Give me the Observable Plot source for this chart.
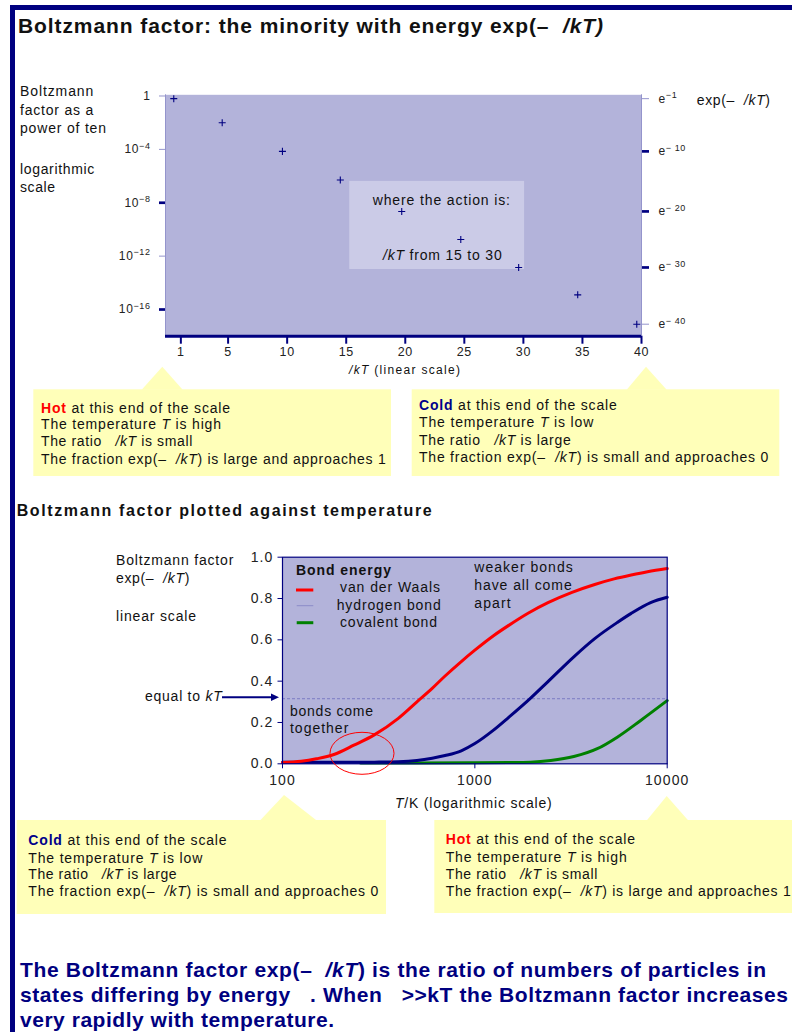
<!DOCTYPE html>
<html><head><meta charset="utf-8">
<script src="https://cdn.jsdelivr.net/npm/d3@7"></script>
<script src="https://cdn.jsdelivr.net/npm/@observablehq/plot@0.6"></script>
<style>
body{margin:0;background:#fff;}
#page{position:relative;width:792px;height:1032px;overflow:hidden;background:#fff;font-family:"Liberation Sans",Arial,sans-serif;}
#page svg{position:absolute;overflow:visible;}
</style></head><body><div id="page"></div>
<script>
// ---------- data: top chart (Boltzmann factor vs ε/kT, log scale) ----------
const ratioTicks = [1, 5, 10, 15, 20, 25, 30, 35, 40];
const pointRatio = [0.4, 4.5, 9.6, 14.5, 19.7, 24.7, 29.6, 34.6, 39.6];
const pointLog10 = [-0.2, -2.0, -4.15, -6.3, -8.65, -10.75, -12.85, -14.9, -17.1];
const pointExpN  = [1, 5, 10, 15, 20, 25, 30, 35, 40];                       // exponent n of e^-n
const powerTenMajor = [-8, -16];
const powerTenMinor = [0, -4, -12];
const powerTenLabels = [0, -4, -8, -12, -16];
const expTicksMajor = [10, 20, 30];
const expTicksMinor = [1, 40];
const expTickLabels = [1, 10, 20, 30, 40];
const actionRange = [15.3, 30.1];   // ε/kT band "where the action is"
const actionLog10 = [-6.4, -13.0];

// ---------- data: bottom chart (Boltzmann factor vs T, log T) ----------
const vdwT = [100,125,150,185,235,300,400,500,600,700,850,1000,1250,1500,1900,2400,3200,4200,5300,6500,7900,10000];
const vdwF = [0.006,0.012,0.024,0.045,0.09,0.14,0.22,0.30,0.365,0.425,0.495,0.55,0.62,0.67,0.73,0.78,0.83,0.868,0.895,0.914,0.93,0.945];
const hydT = [100,200,300,400,500,600,700,850,1000,1250,1500,1950,2400,3270,4200,5500,6500,8200,10000];
const hydF = [0.007,0.007,0.008,0.01,0.016,0.027,0.04,0.063,0.098,0.163,0.225,0.318,0.398,0.518,0.606,0.684,0.728,0.78,0.806];
const covT = [255,500,1000,1500,1950,2480,3270,4330,5500,7280,10000];
const covF = [0.004,0.004,0.005,0.006,0.008,0.016,0.035,0.073,0.129,0.21,0.306];
const tempTicks = [100, 1000, 10000];
const factorTicks = [0, 0.2, 0.4, 0.6, 0.8, 1.0];
const kTLevel = 0.315;

// ---------- styling ----------
const NAVY = "#000080", BG = "#b3b3da", LIGHT = "#9494cc", YEL = "#ffffb9", TXT = "#111";
const FONT = "'Liberation Sans', Arial, sans-serif";
const svgNS = "http://www.w3.org/2000/svg";
const page = document.getElementById("page");

function supers(svg) {
  svg.querySelectorAll("text").forEach(t => {
    const s = t.textContent; const i = s.indexOf("^"); if (i < 0) return;
    t.textContent = "";
    const a = document.createElementNS(svgNS, "tspan"); a.textContent = s.slice(0, i); t.appendChild(a);
    const b = document.createElementNS(svgNS, "tspan"); b.textContent = s.slice(i + 1);
    b.setAttribute("dy", "-0.5em"); b.setAttribute("font-size", "0.75em"); t.appendChild(b);
  });
}

// ---------- top chart ----------
const points = pointRatio.map((r, i) => ({r, f: 10 ** pointLog10[i], n: pointExpN[i]}));
const valOfN = n => 10 ** pointLog10[pointExpN.indexOf(n)];
const expLabels = expTickLabels.map(n => ({n, f: valOfN(n), label: "e^\u2212" + (n >= 10 ? " " : "") + n}));
const fmtPow = d => { const e = Math.round(Math.log10(d)); return e === 0 ? "1" : "10^\u2212" + (-e); };

const topChart = Plot.plot({
  width: 792, height: 300,
  marginLeft: 165, marginRight: 151, marginTop: 14.3, marginBottom: 44.3,
  style: {fontFamily: FONT, background: "transparent", color: "#222", overflow: "visible", letterSpacing: "0.6px"},
  x: {type: "linear", domain: [-0.3, 40], axis: null},
  y: {type: "log", domain: [1e-18, 1.23], axis: null},
  marks: [
    Plot.frame({fill: BG, stroke: null}),
    Plot.rect([actionRange], {x1: d => d[0], x2: d => d[1], y1: () => 10 ** actionLog10[0], y2: () => 10 ** actionLog10[1], fill: "#cbcbe7"}),
    Plot.ruleX([-0.3, 40], {stroke: LIGHT, strokeWidth: 1}),
    Plot.ruleY([1e-18], {stroke: NAVY, strokeWidth: 3}),
    Plot.dot(points, {x: "r", y: "f", symbol: "plus", r: 2.4, stroke: NAVY, strokeWidth: 1.1}),
    Plot.axisX(ratioTicks, {anchor: "bottom", tickSize: 8, tickPadding: 3, stroke: NAVY, strokeWidth: 2, fill: "#222", fontSize: 12.5, label: null}),
    Plot.axisY(powerTenLabels.map(e => 10 ** e), {anchor: "left", tickSize: 0, tickPadding: 15, tickFormat: fmtPow, fill: "#222", fontSize: 12, label: null}),
    Plot.axisY(powerTenMajor.map(e => 10 ** e), {anchor: "left", tickSize: 6, stroke: NAVY, strokeWidth: 2.7, tickFormat: () => "", label: null}),
    Plot.axisY(powerTenMinor.map(e => 10 ** e), {anchor: "left", tickSize: 6, stroke: LIGHT, strokeWidth: 1, tickFormat: () => "", label: null}),
    Plot.text(expLabels, {x: () => 40, y: "f", text: "label", dx: 17, textAnchor: "start", fill: "#222", fontSize: 12}),
    Plot.axisY(expTicksMajor.map(valOfN), {anchor: "right", tickSize: 7, stroke: NAVY, strokeWidth: 2.7, tickFormat: () => "", label: null}),
    Plot.axisY(expTicksMinor.map(valOfN), {anchor: "right", tickSize: 7, stroke: LIGHT, strokeWidth: 1, tickFormat: () => "", label: null})
  ]
});
supers(topChart);
topChart.style.left = "0px"; topChart.style.top = "80px";
page.appendChild(topChart);

// ---------- bottom chart ----------
const series = (T, F) => T.map((t, i) => ({T: t, f: F[i]}));
const bottomChart = Plot.plot({
  width: 792, height: 280,
  marginLeft: 282, marginRight: 125.3, marginTop: 16.7, marginBottom: 56.7,
  style: {fontFamily: FONT, background: "transparent", color: "#222", overflow: "visible", letterSpacing: "1.1px"},
  x: {type: "log", domain: [100, 10000], axis: null},
  y: {type: "linear", domain: [0, 1], axis: null},
  marks: [
    Plot.frame({fill: BG, stroke: null}),
    Plot.ruleY([kTLevel], {stroke: "#6c6cbc", strokeWidth: 0.8, strokeDasharray: "3,2"}),
    Plot.line(series(covT, covF), {x: "T", y: "f", stroke: "#008000", strokeWidth: 3, curve: "monotone-x"}),
    Plot.line(series(hydT, hydF), {x: "T", y: "f", stroke: NAVY, strokeWidth: 3, curve: "monotone-x"}),
    Plot.line(series(vdwT, vdwF), {x: "T", y: "f", stroke: "#ff0000", strokeWidth: 3, curve: "monotone-x"}),
    Plot.frame({stroke: NAVY, strokeWidth: 1.2}),
    Plot.axisY(factorTicks, {anchor: "left", tickSize: 4.5, tickPadding: 4.5, stroke: NAVY, fill: "#222", tickFormat: d3.format(".1f"), fontSize: 14, label: null}),
    Plot.axisX(tempTicks, {anchor: "bottom", tickSize: 5, tickPadding: 6, stroke: NAVY, fill: "#222", tickFormat: d => String(d), fontSize: 14, label: null})
  ]
});
bottomChart.style.left = "0px"; bottomChart.style.top = "540px";
page.appendChild(bottomChart);

// ---------- overlay: page frame, titles, notes, callouts ----------
const ov = d3.create("svg").attr("width", 792).attr("height", 1032)
  .style("left", "0px").style("top", "0px").style("pointer-events", "none")
  .attr("font-family", FONT);
page.appendChild(ov.node());

function label(x, y, parts, o = {}) {
  const t = ov.append("text").attr("x", x).attr("y", y)
    .attr("font-size", o.size || 14).attr("font-weight", o.weight || "normal")
    .attr("fill", o.fill || TXT).attr("text-anchor", o.anchor || "start");
  if (o.len) t.attr("textLength", o.len).attr("lengthAdjust", "spacing");
  for (const p of parts) {
    const [s, st] = typeof p === "string" ? [p, {}] : p;
    const ts = t.append("tspan").text(s);
    if (st.i) ts.attr("font-style", "italic");
    if (st.b) ts.attr("font-weight", "bold");
    if (st.c) ts.attr("fill", st.c);
  }
}
const I = s => [s, {i: true}];
const E = "\u00a0\u00a0"; // gap where the ε glyph is missing

// frame bars
ov.append("rect").attr("x", 10).attr("y", 5).attr("width", 5).attr("height", 1027).attr("fill", NAVY);
ov.append("rect").attr("x", 10).attr("y", 5).attr("width", 782).attr("height", 5).attr("fill", NAVY);

// title
label(18, 33, ["Boltzmann factor: the minority with energy exp(\u2013" + E, I("/kT)")], {size: 21, weight: "bold", len: 585});

// top chart labels
label(20, 96.4, ["Boltzmann"], {len: 73.3});
label(20, 114.7, ["factor as a"], {len: 73.3});
label(20, 133, ["power of ten"], {len: 86});
label(20, 174, ["logarithmic"], {len: 74.3});
label(20, 192, ["scale"], {len: 35});
label(696.7, 104.7, ["exp(\u2013" + E, I("/kT"), ")"], {len: 73.3});
label(372.7, 205.4, ["where the action is:"], {len: 137.3});
label(383, 260.4, [I("/kT"), " from 15 to 30"], {len: 118.7});
label(349, 374, [I("/kT"), " (linear scale)"], {size: 12, len: 111});

// callouts
function callout(x0, y0, x1, y1, b0, b1, ax, ay) {
  ov.append("rect").attr("x", x0).attr("y", y0).attr("width", x1 - x0).attr("height", y1 - y0).attr("fill", YEL);
  ov.append("polygon").attr("points", `${b0},${y0 + 0.5} ${ax},${ay} ${b1},${y0 + 0.5}`).attr("fill", YEL);
}
callout(33.3, 389.3, 391, 476, 141.7, 182.7, 162.3, 366.7);
callout(411.7, 389.3, 779.3, 476, 626.7, 666.7, 646, 366.7);
callout(16.7, 820, 386, 914, 260, 316.7, 284, 795);
callout(434.3, 820, 792, 913, 646.7, 688.3, 666.7, 796);

function hotNote(x, ys, lens) {
  label(x, ys[0], [["Hot", {b: true, c: "#ff0000"}], " at this end of the scale"], {len: lens[0]});
  label(x, ys[1], ["The temperature ", I("T"), " is high"], {len: lens[1]});
  label(x, ys[2], ["The ratio " + E, I("/kT"), " is small"], {len: lens[2]});
  label(x, ys[3], ["The fraction exp(\u2013" + E, I("/kT"), ") is large and approaches 1"], {len: lens[3]});
}
function coldNote(x, ys, lens) {
  label(x, ys[0], [["Cold", {b: true, c: "#00008b"}], " at this end of the scale"], {len: lens[0]});
  label(x, ys[1], ["The temperature ", I("T"), " is low"], {len: lens[1]});
  label(x, ys[2], ["The ratio " + E, I("/kT"), " is large"], {len: lens[2]});
  label(x, ys[3], ["The fraction exp(\u2013" + E, I("/kT"), ") is small and approaches 0"], {len: lens[3]});
}
hotNote(41, [413, 428.7, 446.4, 463.7], [189, 180, 151.3, 344.7]);
coldNote(419, [409.7, 427, 444.7, 462], [197.7, 174.3, 151.7, 349.3]);
coldNote(28.3, [844.7, 863, 879, 896.4], [198.3, 174, 148.3, 350]);
hotNote(445.7, [844, 862.4, 879, 895.5], [189.3, 181, 151.6, 345]);

// section title
label(16.7, 515.5, ["Boltzmann factor plotted against temperature"], {size: 16, weight: "bold", len: 415});

// bottom chart labels
label(116, 565.4, ["Boltzmann factor"], {len: 117.3});
label(116, 583, ["exp(\u2013" + E, I("/kT"), ")"], {len: 73.3});
label(116, 620.7, ["linear scale"], {len: 80});
label(145, 700.7, ["equal to ", I("kT")], {len: 76.7});
ov.append("line").attr("x1", 222).attr("y1", 697.3).attr("x2", 273).attr("y2", 697.3).attr("stroke", NAVY).attr("stroke-width", 2);
ov.append("polygon").attr("points", "279,697.3 271,693.5 271,701.1").attr("fill", NAVY);

label(296, 575.4, ["Bond energy"], {weight: "bold", len: 95});
label(340, 592, ["van der Waals"], {len: 100});
label(336.7, 609.7, ["hydrogen bond"], {len: 104});
label(340, 627, ["covalent bond"], {len: 97});
ov.append("line").attr("x1", 296).attr("x2", 313.3).attr("y1", 590).attr("y2", 590).attr("stroke", "#ff0000").attr("stroke-width", 3);
ov.append("line").attr("x1", 296.7).attr("x2", 313.3).attr("y1", 605.7).attr("y2", 605.7).attr("stroke", "#8c8cc8").attr("stroke-width", 1);
ov.append("line").attr("x1", 296.7).attr("x2", 313.3).attr("y1", 622.7).attr("y2", 622.7).attr("stroke", "#008000").attr("stroke-width", 3);

label(474.3, 572, ["weaker bonds"], {len: 98.4});
label(474.3, 590.4, ["have all come"], {len: 97.4});
label(474.3, 608, ["apart"], {len: 36.4});
label(290, 716.4, ["bonds come"], {len: 83});
label(290, 733, ["together"], {len: 58.3});
ov.append("ellipse").attr("cx", 362).attr("cy", 753.3).attr("rx", 32).attr("ry", 21)
  .attr("fill", "none").attr("stroke", "#ff0000").attr("stroke-width", 1);
label(395, 808, [I("T"), "/K (logarithmic scale)"], {size: 14, len: 156.7});

// closing statement
label(20, 977, ["The Boltzmann factor exp(\u2013" + E, I("/kT"), ") is the ratio of numbers of particles in"], {size: 21, weight: "bold", fill: NAVY, len: 746});
label(20, 1002, ["states differing by energy " + E + ". When " + E + ">>kT the Boltzmann factor increases"], {size: 21, weight: "bold", fill: NAVY, len: 768});
label(20, 1027, ["very rapidly with temperature."], {size: 21, weight: "bold", fill: NAVY, len: 314});
</script></body></html>
